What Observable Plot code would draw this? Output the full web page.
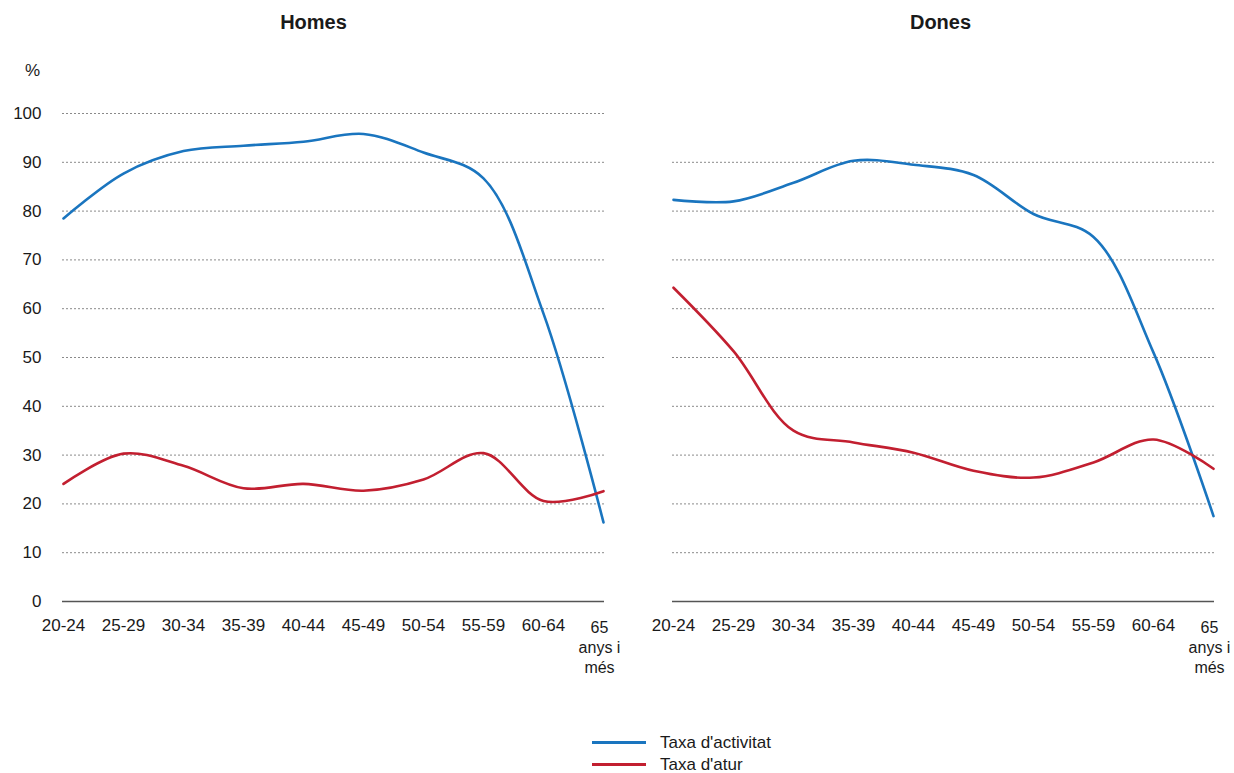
<!DOCTYPE html>
<html><head><meta charset="utf-8">
<script src="https://cdn.jsdelivr.net/npm/d3@7"></script>
<script src="https://cdn.jsdelivr.net/npm/@observablehq/plot@0.6"></script>
<style>
body{margin:0;background:#fff;font-family:"Liberation Sans",Arial,Helvetica,sans-serif;}
#chart{position:relative;width:1234px;height:773px;overflow:hidden;}
#chart svg{position:absolute;left:0;top:0;}
.legend{position:absolute;left:592px;top:731px;font-size:17px;line-height:1;color:#1a1a1a;}
.legend .row{display:flex;align-items:center;height:22px;}
.legend .sw{display:inline-block;width:54px;height:3px;margin-right:14px;}
</style></head><body><div id="chart"></div><script>
const ages = ["20-24","25-29","30-34","35-39","40-44","45-49","50-54","55-59","60-64","65\nanys i\nmés"];
const sexes = ["Homes","Dones"];
const series = ["Taxa d'activitat","Taxa d'atur"];
const homesActivitat = [78.5,87.7,92.3,93.4,94.2,95.8,92.0,86.7,59.0,16.2];
const homesAtur = [24.1,30.3,27.8,23.2,24.1,22.7,25.0,30.4,20.6,22.6];
const donesActivitat = [82.3,82.0,85.8,90.3,89.5,87.4,79.4,74.7,51.0,17.5];
const donesAtur = [64.3,51.3,35.0,32.6,30.5,26.8,25.4,28.5,33.2,27.2];
const colors = ["#1a75bf","#c21f30"];
const yTicks = [0,10,20,30,40,50,60,70,80,90,100];

const rows = [];
sexes.forEach((s, si) => {
  const vals = si === 0 ? [homesActivitat, homesAtur] : [donesActivitat, donesAtur];
  series.forEach((ser, k) => ages.forEach((a, i) => rows.push({sex: s, serie: ser, age: a, value: vals[k][i]})));
});
const grid = [];
sexes.forEach(s => yTicks.filter(t => t > 0 && (s === "Homes" || t < 100)).forEach(t => grid.push({sex: s, v: t})));

const font = '"Liberation Sans",Arial,Helvetica,sans-serif';
const plot = Plot.plot({
  width: 1234, height: 700,
  marginLeft: 62, marginRight: 20, marginTop: 113, marginBottom: 99,
  style: {fontFamily: font, fontSize: "17px", color: "#1a1a1a", background: "transparent"},
  fx: {domain: sexes, paddingInner: 0.1115, paddingOuter: 0, axis: null},
  x: {type: "point", domain: ages, padding: 0},
  y: {domain: [0, 100]},
  color: {domain: series, range: colors},
  marks: [
    Plot.ruleY(grid, {y: "v", fx: "sex", stroke: "#8a8a8a", strokeDasharray: "2,2", strokeWidth: 1}),
    Plot.ruleY([0], {stroke: "#555", strokeWidth: 1.5}),
    Plot.axisX({ticks: ages.slice(0, -1), tickSize: 0, tickPadding: 17, fontSize: 17, label: null}),
    Plot.axisX({ticks: ages.slice(-1), tickSize: 0, tickPadding: 17, fontSize: 16, lineHeight: 1.25, dx: -4, label: null}),
    Plot.axisY({ticks: yTicks, tickSize: 0, tickPadding: 21, fontSize: 17, label: null}),
    Plot.line(rows, {x: "age", y: "value", z: "serie", stroke: "serie", fx: "sex", curve: "catmull-rom", strokeWidth: 2.6}),
    Plot.text([{sex: sexes[0]}], {fx: "sex", text: "sex", frameAnchor: "top", textAnchor: "middle", lineAnchor: "middle", dx: -20, dy: -91, fontWeight: "bold", fontSize: 20}),
    Plot.text([{sex: sexes[1]}], {fx: "sex", text: "sex", frameAnchor: "top", textAnchor: "middle", lineAnchor: "middle", dx: -3, dy: -91, fontWeight: "bold", fontSize: 20}),
    Plot.text([{sex: "Homes"}], {fx: "sex", text: () => "%", frameAnchor: "top-left", textAnchor: "middle", lineAnchor: "middle", dx: -30, dy: -43, fontSize: 17})
  ]
});
const chart = document.getElementById("chart");
chart.appendChild(plot);

const legend = document.createElement("div");
legend.className = "legend";
series.forEach((s, i) => {
  const row = document.createElement("div");
  row.className = "row";
  const sw = document.createElement("span");
  sw.className = "sw";
  sw.style.background = colors[i];
  const t = document.createElement("span");
  t.textContent = s;
  row.appendChild(sw); row.appendChild(t);
  legend.appendChild(row);
});
chart.appendChild(legend);
</script></body></html>
